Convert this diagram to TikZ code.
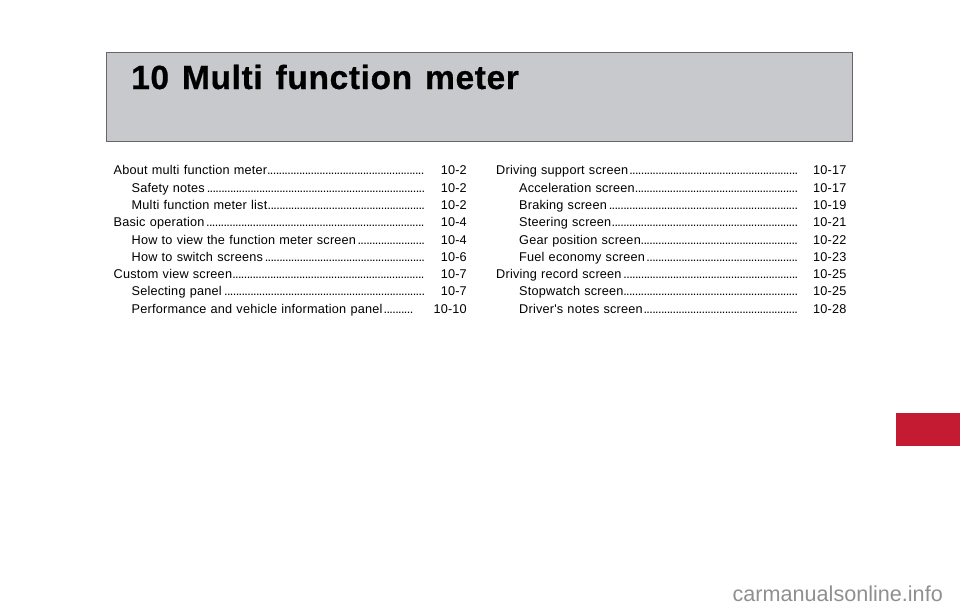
\documentclass[tikz,border=0pt]{standalone}
\usepackage{fontspec}
\setmainfont{Liberation Sans}
\newfontfamily\tocfont[LetterSpace=1.6]{Liberation Sans}
\newfontfamily\titlefont[LetterSpace=1.9,WordSpace=1.3,FakeBold=0.6]{Liberation Sans Bold}
\usetikzlibrary{positioning}
\definecolor{bannergray}{HTML}{C8C9CD}
\definecolor{bannerline}{HTML}{666666}
\definecolor{tabred}{HTML}{C41A32}
\definecolor{markgray}{HTML}{8F8F8F}
\newcommand{\tocdots}{\leaders\hbox to 2.9pt{\hss.\hss}\hfill\null}
\tikzset{
  toc line/.style={
    anchor=base west,
    inner sep=0pt,
    font=\fontsize{12.7}{13}\tocfont,
  },
}
\begin{document}
\begin{tikzpicture}[x=1pt,y=-1pt]
\useasboundingbox (0,0) rectangle (960,611);
\node (banner) at (479.3,97) [draw=bannerline,fill=bannergray,line width=1.3pt,minimum width=746pt,minimum height=88.5pt,inner sep=0pt] {};
\node (title) at (131,89) [anchor=base west,inner sep=0pt,font=\fontsize{33.5}{36}\titlefont] {10 Multi function meter};
% left column
\foreach \ind/\txt/\dotend/\pg [count=\n] in {
  0/About multi function meter/425/10-2,
  18/Safety notes/425/10-2,
  18/Multi function meter list/425/10-2,
  0/Basic operation/425/10-4,
  18/How to view the function meter screen/425/10-4,
  18/How to switch screens/425/10-6,
  0/Custom view screen/425/10-7,
  18/Selecting panel/425/10-7,
  18/Performance and vehicle information panel/415/10-10}
{
  \node (left\n) at (113.5+\ind,{174.8+(\n-1)*17.3}) [toc line,text width=\dotend-113.5-\ind] {\txt\tocdots};
  \node (leftpg\n) at (467,{174.8+(\n-1)*17.3}) [toc line,anchor=base east] {\pg};
}
% right column
\foreach \ind/\txt/\pg [count=\n] in {
  0/Driving support screen/10-17,
  23/Acceleration screen/10-17,
  23/Braking screen/10-19,
  23/Steering screen/10-21,
  23/Gear position screen/10-22,
  23/Fuel economy screen/10-23,
  0/Driving record screen/10-25,
  23/Stopwatch screen/10-25,
  23/Driver's notes screen/10-28}
{
  \node (right\n) at (496+\ind,{174.8+(\n-1)*17.3}) [toc line,text width=800-496-\ind] {\txt\tocdots};
  \node (rightpg\n) at (813,{174.8+(\n-1)*17.3}) [toc line] {\pg};
}
\node (tab) at (928.2,429.5) [fill=tabred,minimum width=63.6pt,minimum height=32.5pt,inner sep=0pt] {};
\node (mark) at (943,601) [anchor=base east,inner sep=0pt,text=markgray,font=\fontsize{21.6}{23}\selectfont] {carmanualsonline.info};
\end{tikzpicture}
\end{document}
